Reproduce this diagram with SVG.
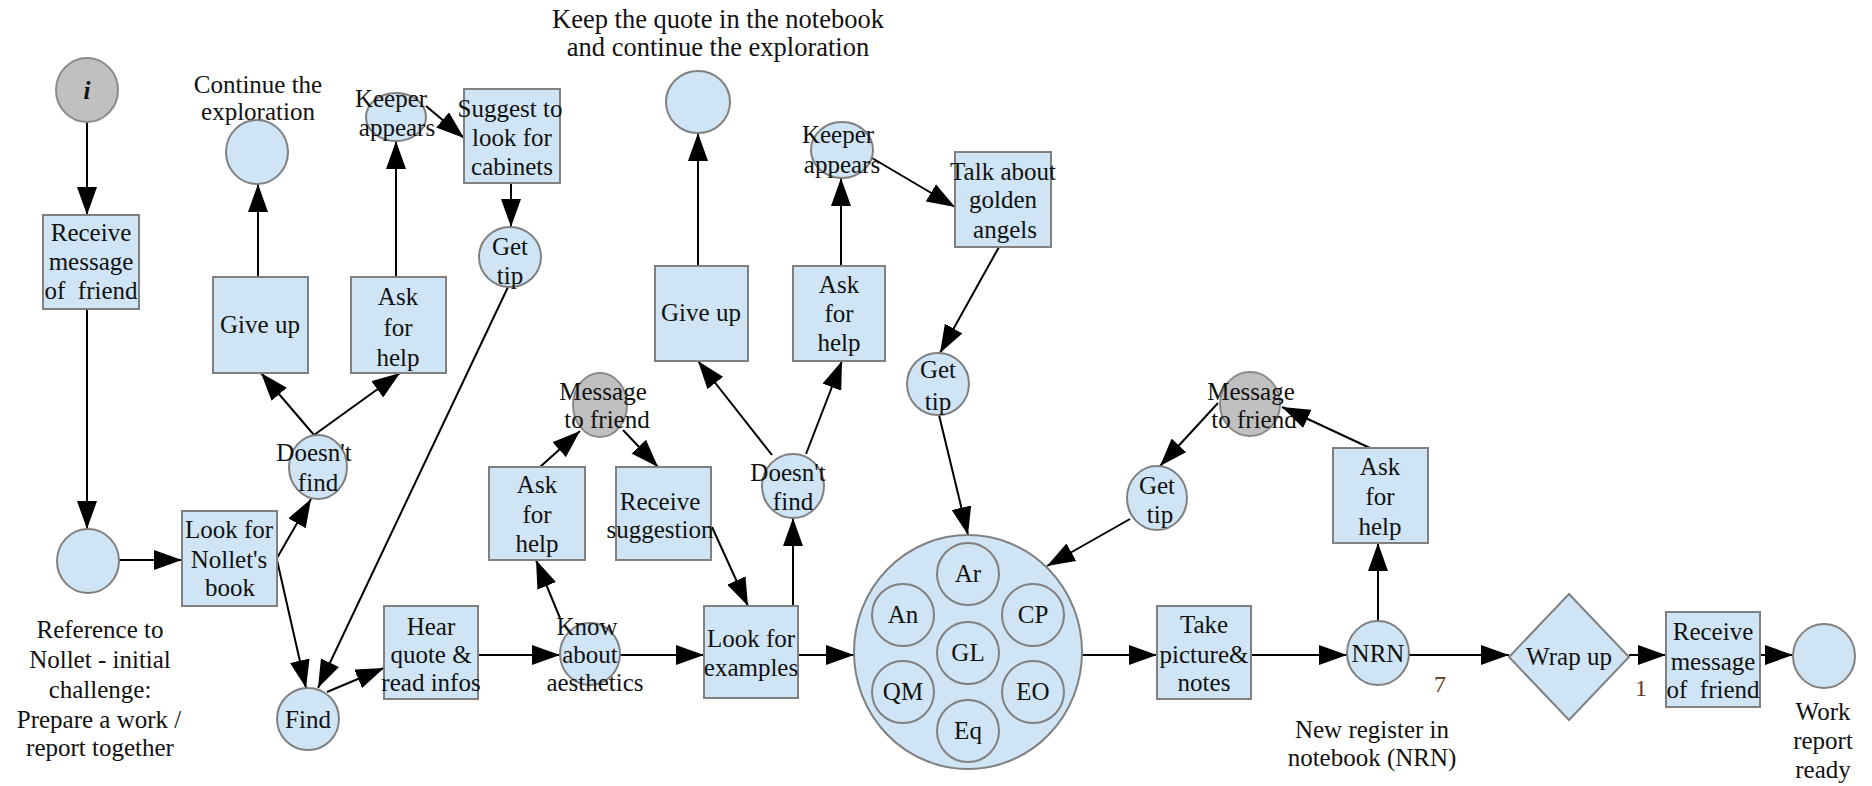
<svg xmlns="http://www.w3.org/2000/svg" width="1872" height="786" viewBox="0 0 1872 786">
  <defs>
    <marker id="arrow" markerUnits="userSpaceOnUse" markerWidth="28" markerHeight="20" viewBox="0 0 28 20" refX="28" refY="10" orient="auto">
      <path d="M0,0 L28,10 L0,20 z" fill="#000"/>
    </marker>
    <style>
      .box { fill: #cfe5f5; stroke: #808080; stroke-width: 2; }
      .state { fill: #cfe5f5; stroke: #808080; stroke-width: 2; }
      .msg { fill: #c0c0c0; stroke: #8a8a8a; stroke-width: 2; }
      .edge { stroke: #000; stroke-width: 2; fill: none; marker-end: url(#arrow); }
      text { font-family: "Liberation Serif", "Times New Roman", serif; font-size: 25px; fill: #111; text-anchor: middle; }
      .caption { font-size: 26.5px; }
      .count { fill: #5a3a2a; font-size: 24px; }
    </style>
  </defs>
  <rect width="1872" height="786" fill="#fff"/>

  <!-- connectors -->
  <g id="connectors">
    <line class="edge" x1="87" y1="122" x2="87" y2="215"/>
    <line class="edge" x1="87" y1="309" x2="87" y2="529"/>
    <line class="edge" x1="112" y1="560" x2="182" y2="560"/>
    <line class="edge" x1="277" y1="558" x2="311" y2="499"/>
    <line class="edge" x1="277" y1="560" x2="306" y2="688"/>
    <line class="edge" x1="314" y1="435" x2="261" y2="373"/>
    <line class="edge" x1="314" y1="435" x2="400" y2="373"/>
    <line class="edge" x1="258" y1="277" x2="258" y2="184"/>
    <line class="edge" x1="396" y1="277" x2="396" y2="141"/>
    <line class="edge" x1="426" y1="106" x2="464" y2="138"/>
    <line class="edge" x1="511" y1="183" x2="511" y2="227"/>
    <line class="edge" x1="508" y1="287" x2="318" y2="688"/>
    <line class="edge" x1="327" y1="692" x2="384" y2="668"/>
    <line class="edge" x1="478" y1="655" x2="560" y2="655"/>
    <line class="edge" x1="560" y1="618" x2="536" y2="560"/>
    <line class="edge" x1="540" y1="467" x2="580" y2="431"/>
    <line class="edge" x1="623" y1="430" x2="658" y2="467"/>
    <line class="edge" x1="712" y1="527" x2="748" y2="606"/>
    <line class="edge" x1="620" y1="655" x2="704" y2="655"/>
    <line class="edge" x1="793" y1="606" x2="793" y2="518"/>
    <line class="edge" x1="772" y1="455" x2="698" y2="361"/>
    <line class="edge" x1="806" y1="454" x2="842" y2="361"/>
    <line class="edge" x1="698" y1="266" x2="698" y2="133"/>
    <line class="edge" x1="841" y1="266" x2="841" y2="178"/>
    <line class="edge" x1="872" y1="158" x2="955" y2="207"/>
    <line class="edge" x1="999" y1="247" x2="940" y2="353"/>
    <line class="edge" x1="939" y1="415" x2="968" y2="535"/>
    <line class="edge" x1="798" y1="655" x2="854" y2="655"/>
    <line class="edge" x1="1082" y1="655" x2="1157" y2="655"/>
    <line class="edge" x1="1251" y1="655" x2="1347" y2="655"/>
    <line class="edge" x1="1378" y1="621" x2="1378" y2="543"/>
    <line class="edge" x1="1370" y1="448" x2="1282" y2="407"/>
    <line class="edge" x1="1218" y1="403" x2="1160" y2="466"/>
    <line class="edge" x1="1130" y1="519" x2="1047" y2="566"/>
    <line class="edge" x1="1409" y1="655" x2="1509" y2="655"/>
    <line class="edge" x1="1629" y1="655" x2="1666" y2="655"/>
    <line class="edge" x1="1760" y1="655" x2="1793" y2="655"/>
  </g>

  <!-- free labels -->
  <g id="labels">
    <text x="258" y="93">Continue the</text>
    <text x="258" y="120">exploration</text>
    <text class="caption" x="718" y="28">Keep the quote in the notebook</text>
    <text class="caption" x="718" y="56">and continue the exploration</text>
    <text x="100" y="638">Reference to</text>
    <text x="100" y="668">Nollet - initial</text>
    <text x="100" y="698">challenge:</text>
    <text x="99" y="728">Prepare a work /</text>
    <text x="100" y="756">report together</text>
    <text x="1372" y="738">New register in</text>
    <text x="1372" y="766">notebook (NRN)</text>
    <text x="1823" y="720">Work</text>
    <text x="1823" y="749">report</text>
    <text x="1823" y="778">ready</text>
    <text class="count" x="1440" y="692">7</text>
    <text class="count" x="1641" y="696">1</text>
  </g>

  <g id="n-initial">
    <ellipse class="msg" cx="87" cy="90" rx="31" ry="32"/>
    <text x="87" y="99" font-style="italic" font-weight="bold">i</text>
  </g>
  <g id="n-receive-1">
    <rect class="box" x="43" y="215" width="96" height="94"/>
    <text x="91" y="241">Receive</text>
    <text x="91" y="270">message</text>
    <text x="91" y="299" xml:space="preserve">of  friend</text>
  </g>
  <g id="n-reference">
    <ellipse class="state" cx="88" cy="561" rx="31" ry="32"/>
  </g>
  <g id="n-look-nollet">
    <rect class="box" x="182" y="511" width="95" height="95"/>
    <text x="229" y="538">Look for</text>
    <text x="229" y="568">Nollet's</text>
    <text x="230" y="596">book</text>
  </g>
  <g id="n-doesnt-find-1">
    <ellipse class="state" cx="318" cy="467" rx="29" ry="32"/>
    <text x="314" y="461">Doesn't</text>
    <text x="318" y="491">find</text>
  </g>
  <g id="n-find">
    <ellipse class="state" cx="308" cy="719" rx="31" ry="31"/>
    <text x="308" y="728">Find</text>
  </g>
  <g id="n-give-up-1">
    <rect class="box" x="213" y="277" width="95" height="96"/>
    <text x="260" y="333">Give up</text>
  </g>
  <g id="n-continue-1">
    <ellipse class="state" cx="257" cy="152" rx="31" ry="32"/>
  </g>
  <g id="n-ask-1">
    <rect class="box" x="351" y="277" width="95" height="96"/>
    <text x="398" y="305">Ask</text>
    <text x="398" y="336">for</text>
    <text x="398" y="366">help</text>
  </g>
  <g id="n-keeper-1">
    <ellipse class="state" cx="396" cy="117" rx="30" ry="24"/>
    <text x="391" y="107">Keeper</text>
    <text x="397" y="136">appears</text>
  </g>
  <g id="n-suggest">
    <rect class="box" x="464" y="89" width="96" height="94"/>
    <text x="510" y="117">Suggest to</text>
    <text x="512" y="146">look for</text>
    <text x="512" y="175">cabinets</text>
  </g>
  <g id="n-get-tip-1">
    <ellipse class="state" cx="510" cy="257" rx="31" ry="30"/>
    <text x="510" y="255">Get</text>
    <text x="510" y="284">tip</text>
  </g>
  <g id="n-hear">
    <rect class="box" x="384" y="606" width="94" height="93"/>
    <text x="431" y="635">Hear</text>
    <text x="431" y="663">quote &amp;</text>
    <text x="431" y="691">read infos</text>
  </g>
  <g id="n-ask-2">
    <rect class="box" x="489" y="467" width="96" height="93"/>
    <text x="537" y="493">Ask</text>
    <text x="537" y="523">for</text>
    <text x="537" y="552">help</text>
  </g>
  <g id="n-message-1">
    <ellipse class="msg" cx="600" cy="405" rx="27" ry="32"/>
    <text x="603" y="400">Message</text>
    <text x="607" y="428">to friend</text>
  </g>
  <g id="n-receive-suggestion">
    <rect class="box" x="616" y="467" width="95" height="93"/>
    <text x="660" y="510">Receive</text>
    <text x="660" y="538">suggestion</text>
  </g>
  <g id="n-know">
    <ellipse class="state" cx="590" cy="654" rx="30" ry="31"/>
    <text x="587" y="635">Know</text>
    <text x="590" y="663">about</text>
    <text x="595" y="691">aesthetics</text>
  </g>
  <g id="n-look-examples">
    <rect class="box" x="704" y="606" width="94" height="92"/>
    <text x="751" y="647">Look for</text>
    <text x="751" y="676">examples</text>
  </g>
  <g id="n-doesnt-find-2">
    <ellipse class="state" cx="793" cy="486" rx="31" ry="32"/>
    <text x="788" y="481">Doesn't</text>
    <text x="793" y="510">find</text>
  </g>
  <g id="n-give-up-2">
    <rect class="box" x="655" y="266" width="93" height="95"/>
    <text x="701" y="321">Give up</text>
  </g>
  <g id="n-continue-2">
    <ellipse class="state" cx="698" cy="102" rx="32" ry="31"/>
  </g>
  <g id="n-ask-3">
    <rect class="box" x="793" y="266" width="92" height="95"/>
    <text x="839" y="293">Ask</text>
    <text x="839" y="322">for</text>
    <text x="839" y="351">help</text>
  </g>
  <g id="n-keeper-2">
    <ellipse class="state" cx="842" cy="150" rx="31" ry="28"/>
    <text x="838" y="143">Keeper</text>
    <text x="842" y="173">appears</text>
  </g>
  <g id="n-talk">
    <rect class="box" x="955" y="152" width="96" height="95"/>
    <text x="1003" y="180">Talk about</text>
    <text x="1003" y="208">golden</text>
    <text x="1005" y="238">angels</text>
  </g>
  <g id="n-get-tip-2">
    <ellipse class="state" cx="938" cy="384" rx="31" ry="31"/>
    <text x="938" y="378">Get</text>
    <text x="938" y="410">tip</text>
  </g>
  <g id="n-exhibits">
    <ellipse class="state" cx="968" cy="652" rx="114" ry="117"/>
    <circle class="state" cx="968" cy="574" r="31"/>
    <text x="968" y="582">Ar</text>
    <circle class="state" cx="903" cy="615" r="31"/>
    <text x="903" y="623">An</text>
    <circle class="state" cx="1033" cy="615" r="31"/>
    <text x="1033" y="623">CP</text>
    <circle class="state" cx="968" cy="653" r="31"/>
    <text x="968" y="661">GL</text>
    <circle class="state" cx="903" cy="692" r="31"/>
    <text x="903" y="700">QM</text>
    <circle class="state" cx="1033" cy="692" r="31"/>
    <text x="1033" y="700">EO</text>
    <circle class="state" cx="968" cy="731" r="31"/>
    <text x="968" y="739">Eq</text>
  </g>
  <g id="n-message-2">
    <ellipse class="msg" cx="1250" cy="404" rx="30" ry="32"/>
    <text x="1251" y="400">Message</text>
    <text x="1254" y="428">to friend</text>
  </g>
  <g id="n-get-tip-3">
    <ellipse class="state" cx="1157" cy="498" rx="30" ry="32"/>
    <text x="1157" y="494">Get</text>
    <text x="1160" y="523">tip</text>
  </g>
  <g id="n-ask-4">
    <rect class="box" x="1333" y="448" width="95" height="95"/>
    <text x="1380" y="475">Ask</text>
    <text x="1380" y="505">for</text>
    <text x="1380" y="535">help</text>
  </g>
  <g id="n-take">
    <rect class="box" x="1157" y="606" width="94" height="93"/>
    <text x="1204" y="633">Take</text>
    <text x="1204" y="663">picture&amp;</text>
    <text x="1204" y="691">notes</text>
  </g>
  <g id="n-nrn">
    <ellipse class="state" cx="1378" cy="653" rx="31" ry="32"/>
    <text x="1378" y="662">NRN</text>
  </g>
  <g id="n-wrap-up">
    <polygon class="state" points="1569,594 1629,657 1569,720 1509,657"/>
    <text x="1569" y="665">Wrap up</text>
  </g>
  <g id="n-receive-2">
    <rect class="box" x="1666" y="612" width="94" height="95"/>
    <text x="1713" y="640">Receive</text>
    <text x="1713" y="670">message</text>
    <text x="1713" y="698" xml:space="preserve">of  friend</text>
  </g>
  <g id="n-report-ready">
    <ellipse class="state" cx="1824" cy="656" rx="31" ry="32"/>
  </g>
</svg>
